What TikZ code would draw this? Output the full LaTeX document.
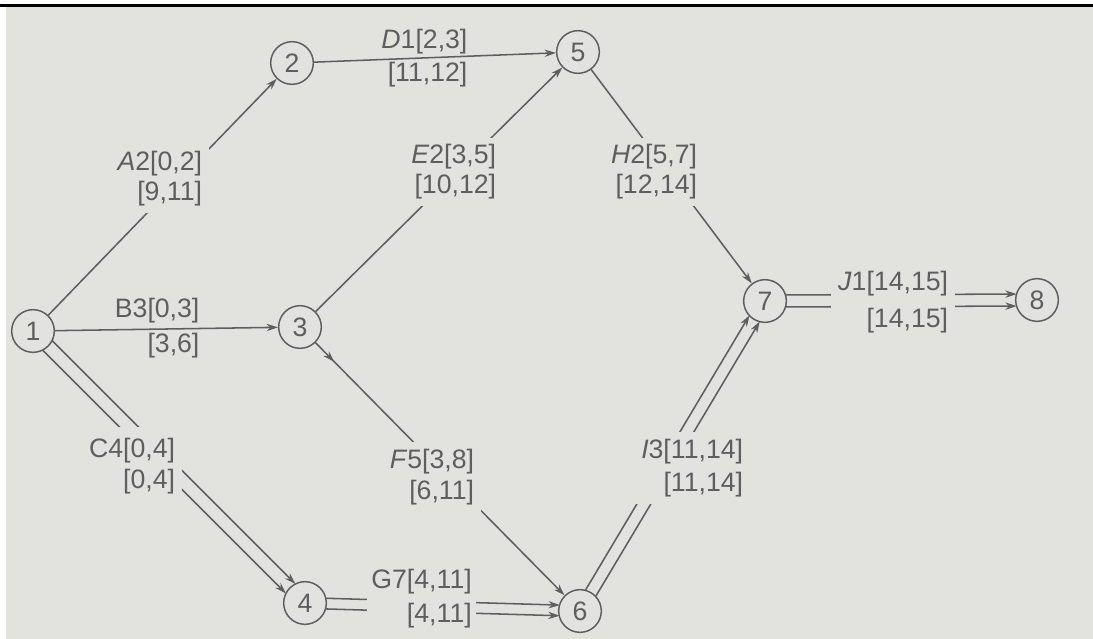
\documentclass[tikz,border=0pt]{standalone}
\usepackage{fontspec}
\setmainfont{Liberation Sans}
\usetikzlibrary{arrows.meta,calc,decorations.markings}
\definecolor{paper}{HTML}{E2E2DF}
\definecolor{ink}{HTML}{5E5E5E}
\begin{document}
\begin{tikzpicture}[x=0.75pt,y=-0.75pt,
  event/.style={circle,draw=ink,line width=1.1pt,minimum size=32pt,inner sep=0pt,
                text=ink,font=\fontsize{20}{24}\selectfont},
  tip/.style={-{Stealth[length=8.5pt,width=5.5pt]}},
  act/.style={draw=ink,line width=1.15pt,tip},
  crit/.style={act,shorten <=15.2pt,shorten >=15.2pt},
  lbl/.style={align=right,text=ink,fill=paper,inner sep=5pt,anchor=east,
              font=\fontsize{20}{22.5}\selectfont},
  lblopen/.style={lbl,fill=none,inner sep=1pt}
]
% page and ruled top edge
\useasboundingbox (0,0) rectangle (1093,639);
\fill[white] (0,0) rectangle (1093,639);
\fill[paper] (6,7) rectangle (1093,639);
\draw[black,line width=2pt] (0,5.5) -- (1093,5.5);

% events
\node[event] (n1) at (33,331)  {1};
\node[event] (n2) at (292,63)  {2};
\node[event] (n3) at (300,327) {3};
\node[event] (n4) at (305,603) {4};
\node[event] (n5) at (578,52)  {5};
\node[event] (n6) at (580,611) {6};
\node[event] (n7) at (765,301) {7};
\node[event] (n8) at (1037,300) {8};

% ordinary activities
\draw[act] (n1) -- (n2);
\draw[act] (n1) -- (n3);
\draw[act] (n2) -- (n5);
\draw[act] (n3) -- (n5);
\draw[act] (n5) -- (n7);
\draw[act,postaction={decorate},
      decoration={markings,mark=at position 20pt with {\arrow{Stealth[length=8.5pt,width=5.5pt]}}}]
      (n3) -- (n6);

% critical activities drawn as double lines
\draw[crit] ($(n1)!5pt!90:(n4)$) -- ($(n4)!5pt!-90:(n1)$);
\draw[crit] ($(n1)!5pt!-90:(n4)$) -- ($(n4)!5pt!90:(n1)$);
\draw[crit] ($(n4)!4pt!90:(n6)$) -- ($(n6)!4pt!-90:(n4)$);
\draw[crit] ($(n4)!4pt!-90:(n6)$) -- ($(n6)!4pt!90:(n4)$);
\draw[crit] ($(n6)!4.5pt!90:(n7)$) -- ($(n7)!4.5pt!-90:(n6)$);
\draw[crit] ($(n6)!4.5pt!-90:(n7)$) -- ($(n7)!4.5pt!90:(n6)$);
\draw[crit] ($(n7)!4.5pt!90:(n8)$) -- ($(n8)!4.5pt!-90:(n7)$);
\draw[crit] ($(n7)!4.5pt!-90:(n8)$) -- ($(n8)!4.5pt!90:(n7)$);

% activity labels: name, duration [ES,EF] / [LS,LF]
\node[lbl]     (la) at (209,179) {\textit{A}2[0,2]\\{[9,11]}};
\node[lblopen] (ld) at (469,58)  {\textit{D}1[2,3]\\[2.2pt]{[11,12]}};
\node[lbl]     (le) at (503,172) {\textit{E}2[3,5]\\{[10,12]}};
\node[lbl]     (lh) at (704,172) {\textit{H}2[5,7]\\{[12,14]}};
\node[lblopen] (lb) at (201,328) {B3[0,3]\\[3.8pt]{[3,6]}};
\node[lbl,inner ysep=8pt] (lc) at (182,466) {C4[0,4]\\[0.8pt]{[0,4]}};
\node[lbl]     (lf) at (481,477) {\textit{F}5[3,8]\\[0.8pt]{[6,11]}};
\node[lbl,inner xsep=3pt] (lg) at (476,599) {G7[4,11]\\[3pt]{[4,11]}};
\node[lbl]     (li) at (750,468) {\textit{I}3[11,14]\\[2.2pt]{[11,14]}};
\node[lbl]     (lj) at (955,302) {\textit{J}1[14,15]\\[5pt]{[14,15]}};
\end{tikzpicture}
\end{document}
